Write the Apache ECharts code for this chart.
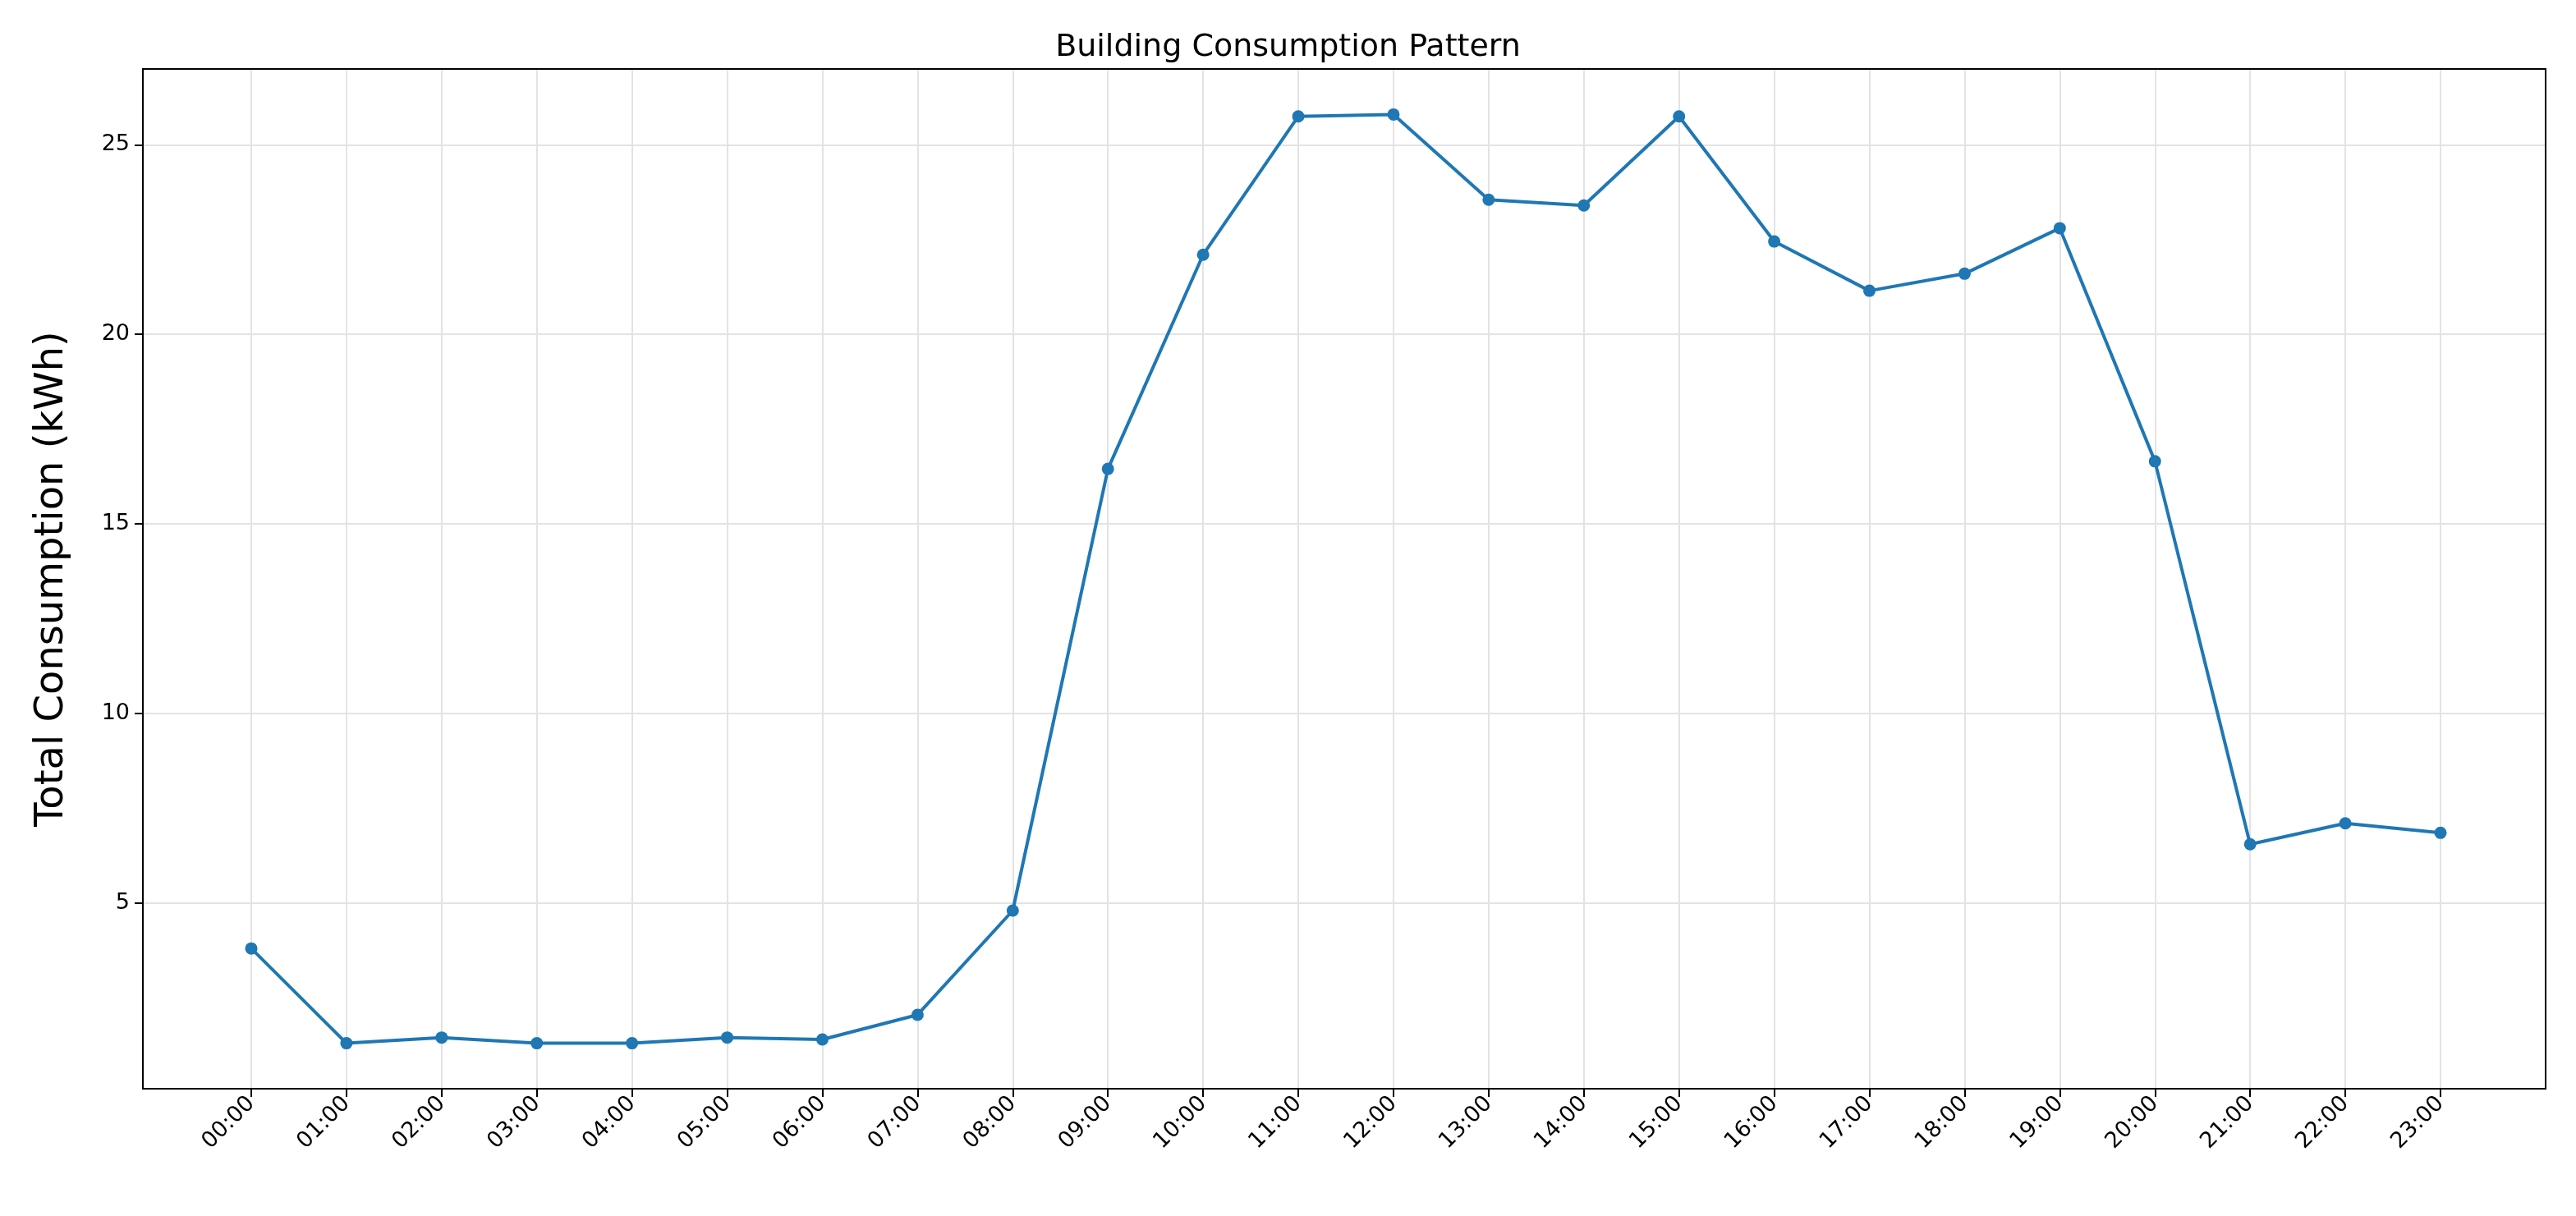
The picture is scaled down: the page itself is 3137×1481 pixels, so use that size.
<!DOCTYPE html>
<html lang="en">
<head>
  <meta charset="UTF-8">
  <title>Building Consumption Pattern</title>
  <style>
    html, body { margin: 0; height: 100%; width: 100%; background: #fff; }
  </style>
</head>
<body>
  <div id="chart" style="width:3137px;height:1481px"></div>
  <script src="https://cdn.jsdelivr.net/npm/echarts@6/dist/echarts.min.js"></script>
  <script>
    const hours = ['00:00', '01:00', '02:00', '03:00', '04:00', '05:00', '06:00', '07:00',
      '08:00', '09:00', '10:00', '11:00', '12:00', '13:00', '14:00', '15:00',
      '16:00', '17:00', '18:00', '19:00', '20:00', '21:00', '22:00', '23:00']
    const consumption = [3.8, 1.3, 1.45, 1.3, 1.3, 1.45, 1.4, 2.05, 4.8, 16.45, 22.1, 25.75,
      25.8, 23.55, 23.4, 25.75, 22.45, 21.15, 21.6, 22.8, 16.65, 6.55, 7.1, 6.85]
    const yTicks = [5, 10, 15, 20, 25]

    const font = 'DejaVu Sans'
    const gridLine = { show: true, lineStyle: { color: '#e3e3e3', width: 2 } }

    const option = {
      animation: false,
      title: {
        text: 'Building Consumption Pattern',
        left: 'center', top: 34,
        textStyle: { fontFamily: font, fontSize: 38, fontWeight: 'normal', color: '#000' }
      },
      grid: [
        // outer frame with y axis
        { left: 174, right: 37, top: 84, bottom: 155, show: true, borderColor: '#000', borderWidth: 2, z: 5 },
        // data area, first and last hour at its edges
        { left: 306, right: 165, top: 84, bottom: 155 }
      ],
      xAxis: [
        { gridIndex: 0, type: 'value', min: 0, max: 1, show: false },
        {
          gridIndex: 1, type: 'category', data: hours, boundaryGap: false,
          axisLine: { show: false },
          axisTick: { show: true, length: 10, lineStyle: { color: '#000', width: 2 } },
          axisLabel: { rotate: 45, fontFamily: font, fontSize: 27, color: '#000', margin: 14, interval: 0 },
          splitLine: gridLine
        }
      ],
      yAxis: [
        {
          gridIndex: 0, type: 'value', min: 0.1, max: 27,
          name: 'Total Consumption (kWh)', nameLocation: 'middle', nameGap: 86,
          nameTextStyle: { fontFamily: font, fontSize: 48, color: '#000' },
          axisLine: { show: false },
          axisTick: { show: true, length: 10, customValues: yTicks, lineStyle: { color: '#000', width: 2 } },
          axisLabel: { customValues: yTicks, fontFamily: font, fontSize: 27, color: '#000', margin: 16 },
          splitLine: gridLine
        },
        { gridIndex: 1, type: 'value', min: 0.1, max: 27, show: false }
      ],
      series: [{
        type: 'line',
        xAxisIndex: 1, yAxisIndex: 1,
        data: consumption,
        symbol: 'circle', symbolSize: 15,
        lineStyle: { color: '#1f77b4', width: 4 },
        itemStyle: { color: '#1f77b4' },
        z: 10
      }]
    }

    const myChart = echarts.init(document.getElementById('chart'))
    myChart.setOption(option)
  </script>
</body>
</html>
